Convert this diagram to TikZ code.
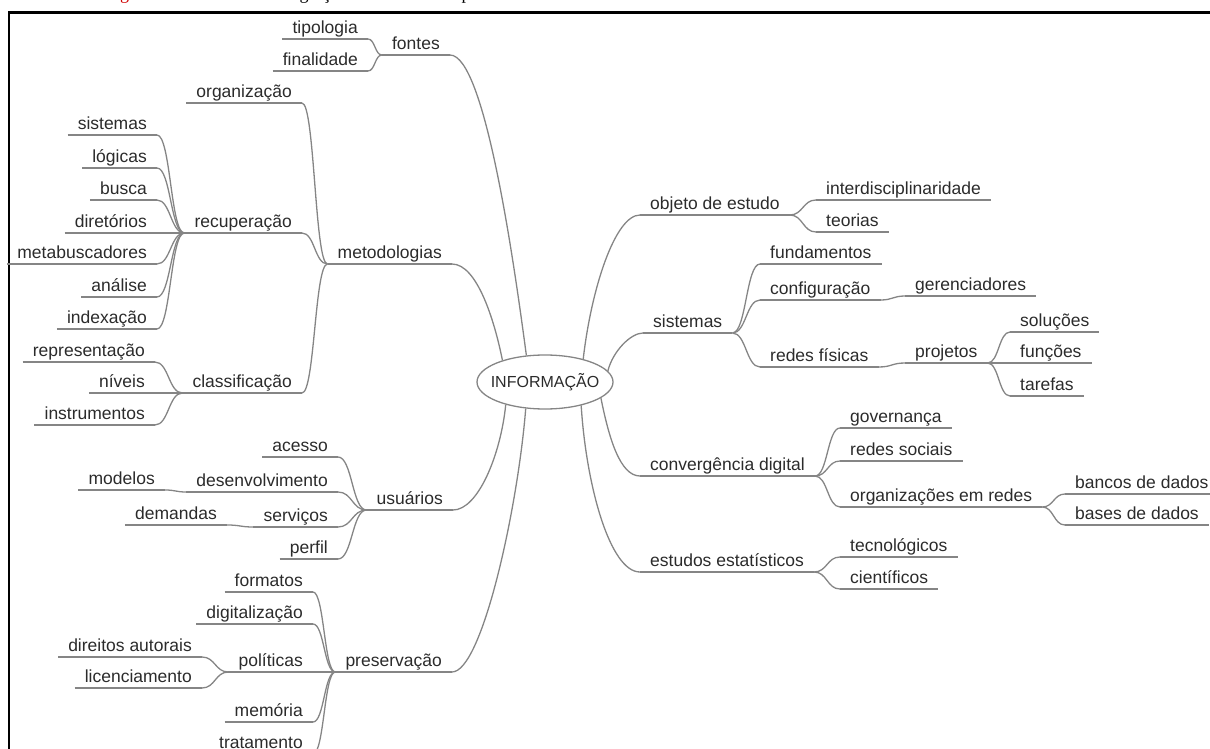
\documentclass[tikz,border=0pt]{standalone}
\usepackage{fontspec}
\setmainfont{Liberation Sans}
\newfontfamily\capfont{Liberation Serif}
\usetikzlibrary{calc,shapes.geometric}
\definecolor{txt}{HTML}{2B2B2B}
\definecolor{ln}{HTML}{858585}
\definecolor{capred}{HTML}{D00000}
\begin{document}
\begin{tikzpicture}[x=1pt,y=-1pt,
  mn/.style={font=\fontsize{17.5}{21}\selectfont, text=txt, inner xsep=10pt, inner ysep=0pt, text height=13pt, text depth=5pt},
  L/.style={mn, anchor=south east},
  R/.style={mn, anchor=south west},
  line/.style={draw=ln, line width=1.3pt},
  mm/.style={to path={let \p1=(\tikztostart), \p2=(\tikztotarget) in .. controls ({0.5*\x1+0.5*\x2},\y1) and ({0.5*\x1+0.5*\x2},\y2) .. (\tikztotarget)}},
  captxt/.style={font=\capfont\fontsize{18}{22}\selectfont, inner sep=0pt, anchor=base west, text=black}
]
\useasboundingbox (0,0) rectangle (1210,749);
\begin{scope}
\clip (0,0) rectangle (1210,749);
% caption (cut off at the top: only descenders show)
\node[captxt, text=capred] (capA) at (105,-0.3) {Figura 1};
\node[captxt] (capB) at (258,-0.3) {– Integração do conceito de plataforma};
% frame
\draw[line width=2.4pt, black] (9,760) -- (9,12.5) -- (1220,12.5);

% root
\node[ellipse, draw=ln, line width=1.3pt, minimum width=136pt, minimum height=54pt, inner sep=0pt,
      font=\fontsize{16}{19}\selectfont, text=txt] (root) at (545,382) {\makebox[0pt]{INFORMAÇÃO}};

% left side
\node[L] (fontes) at (450,55) {fontes};
\node[L] (tipologia) at (368,39) {tipologia};
\node[L] (finalidade) at (368,71) {finalidade};
\node[L] (metodologias) at (452,264) {metodologias};
\node[L] (organizacao) at (302,103) {organização};
\node[L] (recuperacao) at (302,233) {recuperação};
\node[L] (classificacao) at (302,393) {classificação};
\node[L] (sistemasL) at (157,135) {sistemas};
\node[L] (logicas) at (157,168) {lógicas};
\node[L] (busca) at (157,200) {busca};
\node[L] (diretorios) at (157,233) {diretórios};
\node[L] (metabusc) at (157,264) {metabuscadores};
\node[L] (analise) at (157,297) {análise};
\node[L] (indexacao) at (157,329) {indexação};
\node[L] (representacao) at (155,362) {representação};
\node[L] (niveis) at (155,393) {níveis};
\node[L] (instrumentos) at (155,425) {instrumentos};
\node[L] (usuarios) at (453,510) {usuários};
\node[L] (acesso) at (338,457) {acesso};
\node[L] (desenv) at (338,492) {desenvolvimento};
\node[L] (servicos) at (338,527) {serviços};
\node[L] (perfil) at (338,559) {perfil};
\node[L] (modelos) at (165,490) {modelos};
\node[L] (demandas) at (227,525) {demandas};
\node[L] (preservacao) at (452,672) {preservação};
\node[L] (formatos) at (313,592) {formatos};
\node[L] (digitalizacao) at (313,624) {digitalização};
\node[L] (politicas) at (313,672) {políticas};
\node[L] (memoria) at (313,722) {memória};
\node[L] (tratamento) at (313,754) {tratamento};
\node[L] (direitos) at (202,657) {direitos autorais};
\node[L] (licenciamento) at (202,688) {licenciamento};

% right side
\node[R] (objeto) at (640,215) {objeto de estudo};
\node[R] (interdisc) at (816,200) {interdisciplinaridade};
\node[R] (teorias) at (816,232) {teorias};
\node[R] (sistemasR) at (643,333) {sistemas};
\node[R] (fundamentos) at (760,264) {fundamentos};
\node[R] (configuracao) at (760,300) {configuração};
\node[R] (gerenciadores) at (905,296) {gerenciadores};
\node[R] (redesfisicas) at (760,367) {redes físicas};
\node[R] (projetos) at (905,363) {projetos};
\node[R] (solucoes) at (1010,332) {soluções};
\node[R] (funcoes) at (1010,363) {funções};
\node[R] (tarefas) at (1010,396) {tarefas};
\node[R] (convergencia) at (640,476) {convergência digital};
\node[R] (governanca) at (840,428) {governança};
\node[R] (redessociais) at (840,461) {redes sociais};
\node[R] (organizacoes) at (840,507) {organizações em redes};
\node[R] (bancos) at (1065,494) {bancos de dados};
\node[R] (bases) at (1065,525) {bases de dados};
\node[R] (estudos) at (640,572) {estudos estatísticos};
\node[R] (tecnologicos) at (840,557) {tecnológicos};
\node[R] (cientificos) at (840,589) {científicos};

% underlines
\foreach \n in {fontes,tipologia,finalidade,metodologias,organizacao,recuperacao,classificacao,
  sistemasL,logicas,busca,diretorios,metabusc,analise,indexacao,representacao,niveis,instrumentos,
  usuarios,acesso,desenv,servicos,perfil,modelos,demandas,preservacao,formatos,digitalizacao,
  politicas,memoria,tratamento,direitos,licenciamento,objeto,interdisc,teorias,sistemasR,
  fundamentos,configuracao,gerenciadores,redesfisicas,projetos,solucoes,funcoes,tarefas,
  convergencia,governanca,redessociais,organizacoes,bancos,bases,estudos,tecnologicos,cientificos}
  \draw[line] (\n.south west) -- (\n.south east);

% left edges: child -> parent
\foreach \a/\b in {tipologia/fontes,finalidade/fontes,organizacao/metodologias,recuperacao/metodologias,
  classificacao/metodologias,sistemasL/recuperacao,logicas/recuperacao,busca/recuperacao,
  diretorios/recuperacao,metabusc/recuperacao,analise/recuperacao,indexacao/recuperacao,
  representacao/classificacao,niveis/classificacao,instrumentos/classificacao,
  acesso/usuarios,desenv/usuarios,servicos/usuarios,perfil/usuarios,modelos/desenv,demandas/servicos,
  formatos/preservacao,digitalizacao/preservacao,politicas/preservacao,memoria/preservacao,
  tratamento/preservacao,direitos/politicas,licenciamento/politicas}
  \draw[line] (\a.south east) to[mm] (\b.south west);

% right edges: parent -> child
\foreach \a/\b in {objeto/interdisc,objeto/teorias,sistemasR/fundamentos,sistemasR/configuracao,
  sistemasR/redesfisicas,configuracao/gerenciadores,redesfisicas/projetos,projetos/solucoes,
  projetos/funcoes,projetos/tarefas,convergencia/governanca,convergencia/redessociais,
  convergencia/organizacoes,organizacoes/bancos,organizacoes/bases,estudos/tecnologicos,
  estudos/cientificos}
  \draw[line] (\a.south east) to[mm] (\b.south west);

% root edges
\draw[line] (fontes.south east) .. controls +(35,0) and +(-12,-90) .. (root.125);
\draw[line] (metodologias.south east) .. controls +(25,0) and +(-8,-40) .. (root.153);
\draw[line] (usuarios.south east) .. controls +(25,0) and +(-5,50) .. (root.-150);
\draw[line] (preservacao.south east) .. controls +(30,0) and +(-8,100) .. (root.-126);
\draw[line] (root.31) .. controls +(8,-70) and +(-25,0) .. (objeto.south west);
\draw[line] (root.10) .. controls +(5,-20) and +(-12,0) .. (sistemasR.south west);
\draw[line] (root.-16) .. controls +(8,40) and +(-20,0) .. (convergencia.south west);
\draw[line] (root.-33) .. controls +(5,80) and +(-30,0) .. (estudos.south west);
\end{scope}
\end{tikzpicture}
\end{document}
